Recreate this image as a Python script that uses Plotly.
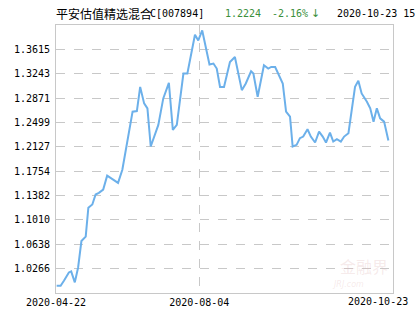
import plotly.graph_objects as go

# trading-day index (position along the time axis) and NAV values
day_idx = [0.2, 1.4, 2.4, 3.9, 4.6, 5.7, 6.7, 7.7, 9.0, 9.8, 11.0, 12.0, 13.0, 14.3, 15.5,
           18.8, 20.1, 21.9, 23.2, 24.5, 25.5, 26.7, 27.7, 28.7, 30.0, 31.0, 32.5, 34.2,
           35.4, 36.6, 38.6, 39.8, 42.1, 43.1, 44.3, 45.5, 46.5, 47.7, 48.7, 49.7, 50.9,
           52.7, 54.2, 56.3, 57.5, 59.1, 59.8, 61.1, 63.0, 64.3, 65.2, 66.4, 67.9, 68.7,
           69.7, 70.9, 71.7, 72.9, 73.9, 74.9, 76.2, 77.2, 78.5, 79.7, 80.8, 81.8, 83.0,
           84.0, 85.1, 86.3, 87.3, 88.6, 89.6, 90.6, 91.6, 92.6, 94.2, 95.2, 96.2, 97.2,
           98.2, 99.4, 100.7]
nav = [1.0005, 1.0005, 1.0081, 1.0208, 1.0224, 1.0056, 1.0284, 1.0688, 1.0755, 1.1196,
       1.1246, 1.1398, 1.1423, 1.1473, 1.1686, 1.1575, 1.1777, 1.2283, 1.2663, 1.2673,
       1.3042, 1.2790, 1.2714, 1.2131, 1.2309, 1.2461, 1.2866, 1.3103, 1.2385, 1.2461,
       1.3246, 1.3246, 1.3838, 1.3752, 1.3904, 1.3626, 1.3383, 1.3398, 1.3322, 1.3042,
       1.3042, 1.3422, 1.3498, 1.2992, 1.3094, 1.3281, 1.3246, 1.2891, 1.3372, 1.3322,
       1.3346, 1.3346, 1.3194, 1.3094, 1.2663, 1.2587, 1.2131, 1.2157, 1.2259, 1.2283,
       1.2395, 1.2283, 1.2192, 1.2359, 1.2283, 1.2192, 1.2344, 1.2207, 1.2244, 1.2207,
       1.2283, 1.2335, 1.2689, 1.3042, 1.3134, 1.2942, 1.2815, 1.2714, 1.2511, 1.2714,
       1.2562, 1.2511, 1.2224]

y_ticks = [1.0266, 1.0638, 1.1010, 1.1382, 1.1754, 1.2127, 1.2499, 1.2871, 1.3243, 1.3615]
y_range = [0.9894, 1.3987]
x_range = [0, 102.1]
x_tick_pos = [0, 43.4]
x_tick_text = ["2020-04-22", "2020-08-04"]
last_date = "2020-10-23"

fund_name = "平安估值精选混合"
fund_code = "C[007894]"
last_nav = "1.2224"
change = "-2.16%"
arrow = "↓"
stamp = "2020-10-23 15"

MONO = "DejaVu Sans Mono"
CJK = "Noto Sans CJK SC"
GRID = "#c8c8c8"
GREEN = "#3b8f3b"

fig = go.Figure()
fig.add_trace(go.Scatter(x=day_idx, y=nav, mode="lines",
                         line=dict(color="#6cb0ea", width=2), hoverinfo="skip"))

fig.update_layout(
    width=415, height=330,
    margin=dict(l=56, r=22, t=25, b=37),
    paper_bgcolor="white", plot_bgcolor="white",
    showlegend=False,
    xaxis=dict(range=x_range, tickvals=x_tick_pos, ticktext=x_tick_text,
               showgrid=True, gridcolor=GRID, griddash="dash", gridwidth=1,
               zeroline=False, showline=True, mirror=True, linecolor=GRID, linewidth=1,
               ticks="", tickfont=dict(family=MONO, size=10, color="black")),
    yaxis=dict(range=y_range, tickvals=y_ticks, ticktext=[f"{v:.4f}" for v in y_ticks],
               showgrid=True, gridcolor=GRID, griddash="dash", gridwidth=1,
               zeroline=False, showline=True, mirror=True, linecolor=GRID, linewidth=1,
               ticks="", ticklabelstandoff=3,
               tickfont=dict(family=MONO, size=10, color="black")),
)

def px_x(px):
    return (px - 56) / 337.0

def px_y(py):
    return (293 - py) / 268.0

def label(px, py, text, family, size, color, anchor="left"):
    return dict(xref="paper", yref="paper", x=px_x(px), y=px_y(py), xanchor=anchor,
                yanchor="middle", text=text, font=dict(family=family, size=size, color=color),
                showarrow=False)

ann = [
    label(154, 14, fund_name, CJK, 12, "black", anchor="right"),
    label(148, 14, fund_code, MONO, 10, "black"),
    label(223, 14, last_nav, MONO, 10, GREEN),
    label(270, 14, change, MONO, 10, GREEN),
    label(309, 14, arrow, "DejaVu Sans", 11, GREEN),
    label(335, 14, stamp, MONO, 10, "black"),
    label(410, 301, last_date, MONO, 10, "black", anchor="right"),
    # faint watermark
    label(390, 266, "金融界", CJK, 16, "rgba(225,185,185,0.3)", anchor="right"),
    label(366, 284, "<i>JRJ.com</i>", "DejaVu Sans", 8, "rgba(225,185,185,0.3)", anchor="right"),
]
fig.update_layout(annotations=ann)

fig.write_html("out.html")
